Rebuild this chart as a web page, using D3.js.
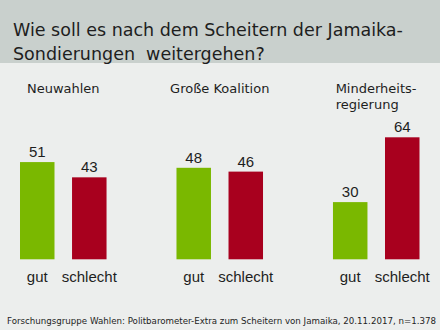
<!DOCTYPE html>
<html>
<head>
<meta charset="utf-8">
<script src="https://cdn.jsdelivr.net/npm/d3@7"></script>
<style>
  body { margin: 0; background: #eceeed; }
  svg { display: block; }
</style>
</head>
<body>
<div id="chart"></div>
<script>
// data
const groups = ["Neuwahlen", "Große Koalition", "Minderheitsregierung"];
const groupTitles = [["Neuwahlen"], ["Große Koalition"], ["Minderheits-", "regierung"]];
const answers = ["gut", "schlecht"];
const gutValues = [51, 48, 30];
const schlechtValues = [43, 46, 64];
const titleLines = ["Wie soll es nach dem Scheitern der Jamaika-", "Sondierungen  weitergehen?"];
const source = "Forschungsgruppe Wahlen: Politbarometer-Extra zum Scheitern von Jamaika, 20.11.2017, n=1.378";

let width = 440, height = 330;

let svg = d3.select("#chart")
  .append("svg")
  .attr("width", width)
  .attr("height", height);

// background + header band
svg.append("rect").attr("width", width).attr("height", height).attr("fill", "#eceeed");
svg.append("rect").attr("width", width).attr("height", 63).attr("fill", "#c9d0cd");

svg.append("g")
  .selectAll("text")
  .data(titleLines)
  .join("text")
  .attr("x", 13)
  .attr("y", (d, i) => 36 + i * 23.5)
  .style("font-family", "'DejaVu Sans', Verdana, sans-serif")
  .style("font-size", "17.5px")
  .style("white-space", "pre")
  .attr("fill", "#1e1e1e")
  .text(d => d);

// scales
var x = d3.scaleBand().domain(groups).range([20, 419.5]).paddingInner(0.447).paddingOuter(0);
var xSub = d3.scaleBand().domain(answers).range([0, x.bandwidth()]).paddingInner(0.337).paddingOuter(0);
var y = d3.scaleLinear().domain([0, 64]).range([259.3, 137.3]);
var color = d3.scaleOrdinal().domain(answers).range(["#7ab800", "#a8001e"]);

var data = groups.map((g, i) => ({
  group: g,
  title: groupTitles[i],
  values: [{ key: "gut", value: gutValues[i] }, { key: "schlecht", value: schlechtValues[i] }]
}));

var gg = svg.append("g")
  .selectAll("g")
  .data(data)
  .join("g")
  .attr("transform", d => `translate(${x(d.group)},0)`);

// group titles: block centred above the group, lines left-aligned
gg.each(function (d) {
  var g = d3.select(this);
  var t = g.append("text")
    .style("font-family", "'DejaVu Sans', Verdana, sans-serif")
    .style("font-size", "13px")
    .attr("fill", "#1e1e1e");
  t.selectAll("tspan")
    .data(d.title)
    .join("tspan")
    .attr("x", 0)
    .attr("y", (s, i) => 93 + i * 16)
    .text(s => s);
  var w = t.node().getBBox().width;
  t.attr("transform", `translate(${x.bandwidth() / 2 - w / 2},0)`);
});

var bars = gg.selectAll(".bar")
  .data(d => d.values)
  .join("g")
  .attr("class", "bar");

bars.append("rect")
  .attr("x", d => xSub(d.key))
  .attr("y", d => y(d.value))
  .attr("width", xSub.bandwidth())
  .attr("height", d => y(0) - y(d.value))
  .attr("fill", d => color(d.key));

bars.append("text")
  .attr("x", d => xSub(d.key) + xSub.bandwidth() / 2)
  .attr("y", d => y(d.value) - 5)
  .attr("text-anchor", "middle")
  .style("font-family", "'Liberation Sans', Arial, sans-serif")
  .style("font-size", "15px")
  .attr("fill", "#1e1e1e")
  .text(d => d.value);

bars.append("text")
  .attr("x", d => xSub(d.key) + xSub.bandwidth() / 2)
  .attr("y", 281.7)
  .attr("text-anchor", "middle")
  .style("font-family", "'Liberation Sans', Arial, sans-serif")
  .style("font-size", "15px")
  .attr("fill", "#1e1e1e")
  .text(d => d.key);

// source line
svg.append("text")
  .attr("x", 7)
  .attr("y", 323.5)
  .attr("textLength", 429)
  .attr("lengthAdjust", "spacingAndGlyphs")
  .style("font-family", "'DejaVu Sans', Verdana, sans-serif")
  .style("font-size", "8.5px")
  .attr("fill", "#1e1e1e")
  .text(source);
</script>
</body>
</html>
